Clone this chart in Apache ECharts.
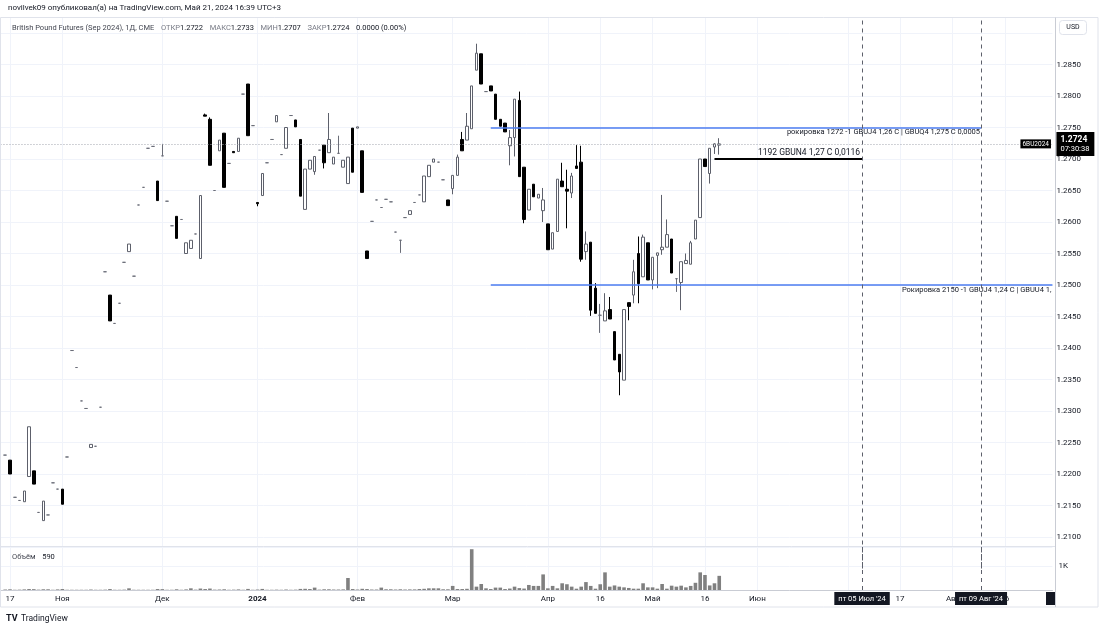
<!DOCTYPE html>
<html><head><meta charset="utf-8">
<script src="https://cdn.jsdelivr.net/npm/echarts@6/dist/echarts.min.js"></script>
<style>html,body{margin:0;padding:0;background:#fff}#c{width:1099px;height:630px}</style>
</head><body><div id="c"></div>
<script>
// ---------- calendar ----------
const holidays = ['2023-11-23','2023-12-25','2024-01-01','2024-01-15','2024-02-19','2024-03-29','2024-05-27','2024-06-19','2024-07-04'];
const axisStart = '2023-10-13';
const axisCount = 222;
const dataStart = '2023-10-16';

// ---------- daily OHLC (from 2023-10-16 to 2024-05-21) ----------
const openP = [1.2230,1.2222,1.2163,1.2158,1.2156,1.2196,1.2205,1.2139,1.2126,1.2135,
1.2186,1.2176,1.2176,1.2227,1.2396,1.2369,1.2316,1.2304,1.2242,1.2244,
1.2306,1.2521,1.2484,1.2439,1.2471,1.2536,1.2553,1.2514,1.2627,1.2655,
1.2717,1.2720,1.2665,1.2705,1.2633,1.2594,1.2609,1.2604,1.2550,1.2558,
1.2581,1.2542,1.2770,1.2763,1.2650,1.2713,1.2741,1.2693,1.2712,1.2712,
1.2803,1.2819,1.2753,1.2631,1.2642,1.2694,1.2731,1.2759,1.2707,1.2717,
1.2769,1.2762,1.2731,1.2620,1.2684,1.2680,1.2714,1.2722,1.2710,1.2692,
1.2709,1.2687,1.2661,1.2749,1.2749,1.2713,1.2554,1.2601,1.2635,1.2623,
1.2636,1.2632,1.2584,1.2571,1.2607,1.2612,1.2631,1.2643,1.2632,1.2672,
1.2695,1.2695,1.2667,1.2635,1.2653,1.2674,1.2731,1.2730,1.2748,1.2841,
1.2867,1.2807,1.2816,1.2803,1.2763,1.2757,1.2721,1.2734,1.2793,1.2687,
1.2619,1.2660,1.2638,1.2618,1.2597,1.2557,1.2585,1.2665,1.2652,1.2646,
1.2689,1.2695,1.2553,1.2568,1.2495,1.2452,1.2443,1.2461,1.2426,1.2390,
1.2349,1.2472,1.2484,1.2550,1.2513,1.2567,1.2508,1.2547,1.2556,1.2560,
1.2573,1.2510,1.2504,1.2534,1.2533,1.2573,1.2607,1.2700,1.2677,1.2719,
1.2722];
const highP = [1.2230,1.2222,1.2163,1.2158,1.2173,1.2275,1.2205,1.2139,1.2157,1.2135,
1.2186,1.2176,1.2176,1.2227,1.2396,1.2369,1.2316,1.2304,1.2247,1.2244,
1.2306,1.2521,1.2484,1.2439,1.2471,1.2536,1.2565,1.2514,1.2627,1.2655,
1.2717,1.2720,1.2665,1.2724,1.2633,1.2594,1.2609,1.2604,1.2567,1.2571,
1.2581,1.2642,1.2772,1.2766,1.2650,1.2730,1.2741,1.2693,1.2712,1.2733,
1.2803,1.2819,1.2753,1.2631,1.2677,1.2694,1.2731,1.2769,1.2707,1.2750,
1.2769,1.2762,1.2731,1.2684,1.2698,1.2704,1.2714,1.2722,1.2773,1.2703,
1.2737,1.2698,1.2703,1.2749,1.2751,1.2713,1.2554,1.2601,1.2635,1.2623,
1.2636,1.2632,1.2584,1.2571,1.2607,1.2618,1.2631,1.2643,1.2673,1.2690,
1.2700,1.2695,1.2667,1.2635,1.2674,1.2707,1.2743,1.2773,1.2816,1.2883,
1.2867,1.2807,1.2816,1.2803,1.2763,1.2757,1.2746,1.2795,1.2807,1.2687,
1.2652,1.2660,1.2644,1.2654,1.2597,1.2583,1.2668,1.2694,1.2683,1.2678,
1.2722,1.2721,1.2585,1.2568,1.2503,1.2470,1.2487,1.2481,1.2426,1.2390,
1.2461,1.2472,1.2540,1.2577,1.2580,1.2567,1.2544,1.2551,1.2643,1.2604,
1.2573,1.2510,1.2537,1.2550,1.2570,1.2603,1.2700,1.2700,1.2717,1.2725,
1.2733];
const lowP = [1.2230,1.2200,1.2163,1.2158,1.2156,1.2196,1.2184,1.2139,1.2126,1.2135,
1.2186,1.2176,1.2152,1.2227,1.2396,1.2369,1.2316,1.2304,1.2242,1.2244,
1.2306,1.2521,1.2443,1.2439,1.2471,1.2536,1.2553,1.2514,1.2627,1.2655,
1.2717,1.2720,1.2634,1.2705,1.2633,1.2594,1.2574,1.2604,1.2550,1.2558,
1.2581,1.2542,1.2768,1.2690,1.2650,1.2713,1.2655,1.2693,1.2710,1.2712,
1.2803,1.2737,1.2753,1.2625,1.2642,1.2694,1.2731,1.2759,1.2707,1.2717,
1.2769,1.2751,1.2641,1.2620,1.2684,1.2675,1.2714,1.2685,1.2710,1.2692,
1.2709,1.2687,1.2661,1.2679,1.2749,1.2647,1.2542,1.2601,1.2635,1.2623,
1.2636,1.2632,1.2584,1.2551,1.2607,1.2612,1.2631,1.2643,1.2632,1.2672,
1.2695,1.2695,1.2667,1.2626,1.2644,1.2674,1.2713,1.2730,1.2748,1.2841,
1.2819,1.2807,1.2808,1.2763,1.2752,1.2743,1.2690,1.2704,1.2672,1.2598,
1.2619,1.2640,1.2638,1.2600,1.2556,1.2557,1.2585,1.2656,1.2590,1.2638,
1.2685,1.2537,1.2540,1.2451,1.2455,1.2424,1.2443,1.2446,1.2381,1.2325,
1.2349,1.2444,1.2471,1.2471,1.2513,1.2508,1.2493,1.2495,1.2548,1.2560,
1.2519,1.2489,1.2460,1.2534,1.2533,1.2573,1.2607,1.2688,1.2661,1.2708,
1.2707];
const closeP = [1.2230,1.2200,1.2163,1.2158,1.2173,1.2275,1.2184,1.2139,1.2157,1.2135,
1.2186,1.2176,1.2152,1.2227,1.2396,1.2369,1.2316,1.2304,1.2247,1.2244,
1.2306,1.2521,1.2443,1.2439,1.2471,1.2536,1.2565,1.2514,1.2627,1.2655,
1.2717,1.2720,1.2634,1.2705,1.2633,1.2594,1.2574,1.2604,1.2567,1.2571,
1.2581,1.2642,1.2768,1.2690,1.2650,1.2730,1.2655,1.2693,1.2710,1.2733,
1.2803,1.2737,1.2753,1.2629,1.2677,1.2694,1.2731,1.2769,1.2707,1.2750,
1.2769,1.2751,1.2641,1.2684,1.2698,1.2704,1.2714,1.2694,1.2731,1.2703,
1.2709,1.2698,1.2703,1.2679,1.2751,1.2647,1.2542,1.2601,1.2635,1.2623,
1.2636,1.2632,1.2584,1.2571,1.2607,1.2618,1.2631,1.2643,1.2673,1.2690,
1.2700,1.2695,1.2667,1.2626,1.2674,1.2703,1.2713,1.2752,1.2816,1.2868,
1.2819,1.2807,1.2808,1.2763,1.2752,1.2743,1.2734,1.2795,1.2672,1.2604,
1.2652,1.2640,1.2644,1.2635,1.2556,1.2583,1.2668,1.2656,1.2649,1.2673,
1.2685,1.2541,1.2565,1.2460,1.2455,1.2452,1.2459,1.2446,1.2381,1.2362,
1.2461,1.2466,1.2521,1.2502,1.2576,1.2508,1.2544,1.2551,1.2560,1.2580,
1.2519,1.2510,1.2537,1.2539,1.2567,1.2603,1.2700,1.2688,1.2717,1.2724,
1.2724];
const volumes = [20,30,10,15,25,40,35,15,30,30, 10,25,40,10,10,10,10,10,20,10,
10,15,40,10,10,15,70,10,10,10, 10,10,40,35,10,10,30,10,25,70,
15,60,40,60,15,20,30,10,15,25, 10,45,10,20,45,10,10,15,10,20,
10,15,45,50,40,100,15,30,30,20, 20,25,500,40,20,50,40,20,20,100,
30,30,20,30,20,25,25,40,50,70, 70,70,30,30,170,40,40,50,1700,140,
250,70,40,100,100,40,60,140,80,60, 210,170,170,650,70,170,70,280,240,140,
55,140,330,170,55,240,735,140,190,140, 110,85,55,55,280,110,110,55,250,55,
180,140,180,110,170,300,735,625,190,280, 590];

// ---------- axis ticks ----------
const tickDates = ['2023-10-17','2023-11-01','2023-12-01','2024-01-02','2024-02-01','2024-03-01','2024-04-01','2024-04-16','2024-05-01','2024-05-16','2024-06-03','2024-07-01','2024-07-17','2024-08-01','2024-08-16'];
const tickLabels = ['17','Ноя','Дек','2024','Фев','Мар','Апр','16','Май','16','Июн','','17','Авг','16'];
const priceMin = 1.205, priceMax = 1.295, priceStep = 0.005;
const priceLabelLow = 1.21, priceLabelHigh = 1.285;

// ---------- annotations ----------
const lastPrice = 1.2724;
const rollA = {price: 1.275, from: '2024-03-13', to: '2024-08-09', text: 'рокировка 1272 -1 GBUJ4 1,26 C | GBUQ4 1,275 C 0,0005'};
const rollB = {price: 1.25, from: '2024-03-13', text: 'Рокировка 2150 -1 GBUJ4 1,24 C | GBUU4 1,'};
const callN = {price: 1.27, from: '2024-05-20', to: '2024-07-05', text: '1192 GBUN4 1,27 C 0,0116'};
const vDates = ['2024-07-05', '2024-08-09'];
const vLabels = ["пт 05 Июл '24", "пт 09 Авг '24"];

function tradingDays(start, n) {
  const out = [];
  const d = new Date(start + 'T12:00:00Z');
  while (out.length < n) {
    const dow = d.getUTCDay();
    const s = d.toISOString().slice(0, 10);
    if (dow !== 0 && dow !== 6 && holidays.indexOf(s) < 0) out.push(s);
    d.setUTCDate(d.getUTCDate() + 1);
  }
  return out;
}
const cats = tradingDays(axisStart, axisCount);
const off = cats.indexOf(dataStart);
const candleData = [], volData = [];
for (let k = 0; k < cats.length; k++) {
  const i = k - off;
  if (i >= 0 && i < openP.length) {
    candleData.push([openP[i], closeP[i], lowP[i], highP[i]]);
    volData.push(volumes[i]);
  } else { candleData.push('-'); volData.push('-'); }
}
const tickSet = {};
tickDates.forEach((d, j) => tickSet[d] = tickLabels[j]);
const isTick = (idx, val) => Object.prototype.hasOwnProperty.call(tickSet, val);

const nTicks = Math.round((priceMax - priceMin) / priceStep) + 1;
const splitColors = [];
for (let t = 0; t < nTicks; t++) {
  const v = priceMin + t * priceStep;
  splitColors.push(v < priceLabelLow - 1e-6 || v > priceMax - 1e-6 ? 'rgba(0,0,0,0)' : '#f0f3fa');
}

const FONT = 'Roboto, "Noto Sans", sans-serif';
const chart = echarts.init(document.getElementById('c'), null, {renderer: 'canvas'});
const GL = 0.48, GW = 221 * 4.76;
const lastCat = cats[cats.length - 1];

chart.setOption({
  animation: false,
  backgroundColor: '#ffffff',
  textStyle: {fontFamily: FONT},
  grid: [
    {left: GL, width: GW, top: 1.5, height: 567},
    {left: GL, width: GW, top: 547, height: 43}
  ],
  xAxis: [
    {type: 'category', gridIndex: 0, data: cats, boundaryGap: false,
     axisLine: {show: false}, axisTick: {show: false}, axisLabel: {show: false},
     splitLine: {show: true, interval: isTick, lineStyle: {color: '#f0f3fa', width: 1}}},
    {type: 'category', gridIndex: 1, data: cats, boundaryGap: false,
     axisLine: {show: true, lineStyle: {color: '#c9ccd4', width: 1}}, axisTick: {show: false},
     axisLabel: {show: true, interval: isTick, margin: 5, fontSize: 8, color: '#131722', fontFamily: FONT,
       formatter: v => tickSet[v] === '2024' ? '{b|2024}' : (tickSet[v] || ''),
       rich: {b: {fontWeight: 'bold', fontSize: 8, color: '#131722', fontFamily: FONT}}},
     splitLine: {show: true, interval: isTick, lineStyle: {color: '#f0f3fa', width: 1}}}
  ],
  yAxis: [
    {type: 'value', gridIndex: 0, position: 'right', min: priceMin, max: priceMax, interval: priceStep,
     axisLine: {show: false}, axisTick: {show: false},
     axisLabel: {show: true, margin: 4, fontSize: 8, color: '#131722', fontFamily: FONT,
       formatter: v => (v < priceLabelLow - 1e-6 || v > priceLabelHigh + 1e-6) ? '' : v.toFixed(4)},
     splitLine: {show: true, lineStyle: {color: splitColors, width: 1}}},
    {type: 'value', gridIndex: 1, position: 'right', min: 0, max: 1792, interval: 1000,
     axisLine: {show: false}, axisTick: {show: false},
     axisLabel: {show: true, margin: 6, fontSize: 8, color: '#131722', fontFamily: FONT,
       formatter: v => v === 1000 ? '1K' : ''},
     splitLine: {show: true, lineStyle: {color: '#f0f3fa', width: 1}}}
  ],
  series: [
    {type: 'candlestick', xAxisIndex: 0, yAxisIndex: 0, data: candleData, barWidth: 3,
     itemStyle: {color: '#ffffff', color0: '#000000', borderColor: '#5d606b', borderColor0: '#000000',
       borderColorDoji: '#6a6d78', borderWidth: 1},
     markLine: {symbol: 'none', silent: true, animation: false, precision: 6,
       data: [
         [{coord: [cats[0], lastPrice], lineStyle: {type: [1, 2], color: '#a3a6af', width: 1},
           label: {show: true, position: 'end', distance: 4, backgroundColor: '#000', padding: [3, 5, 2, 4],
             formatter: '{p|1.2724}\n{t|07:30:38}',
             rich: {p: {color: '#fff', fontSize: 8.5, fontWeight: 'bold', fontFamily: FONT, lineHeight: 9.5},
                    t: {color: '#fff', fontSize: 7.5, fontFamily: FONT, lineHeight: 9.5}}}},
          {coord: [lastCat, lastPrice]}],
         [{coord: [cats[0], lastPrice], lineStyle: {color: 'rgba(0,0,0,0)', width: 0},
           label: {show: true, position: 'end', distance: 0, offset: [-32, 0], backgroundColor: '#000',
             color: '#fff', fontSize: 6.5, fontFamily: FONT, padding: [1, 2], formatter: '6BU2024'}},
          {coord: [lastCat, lastPrice]}],
         [{coord: [rollA.from, rollA.price], lineStyle: {color: '#4d7cf0', width: 1.5, type: 'solid'},
           label: {show: true, position: 'insideEndBottom', distance: 1, color: '#131722', fontSize: 7.5,
             fontFamily: FONT, formatter: rollA.text}},
          {coord: [rollA.to, rollA.price]}],
         [{coord: [rollB.from, rollB.price], lineStyle: {color: '#4d7cf0', width: 1.5, type: 'solid'},
           label: {show: true, position: 'insideEndBottom', distance: 1, color: '#131722', fontSize: 7.5,
             fontFamily: FONT, formatter: rollB.text}},
          {coord: [lastCat, rollB.price]}],
         [{coord: [callN.from, callN.price], lineStyle: {color: '#000000', width: 2, type: 'solid'},
           label: {show: true, position: 'insideEndTop', distance: 2, color: '#131722', fontSize: 8.5,
             fontFamily: FONT, formatter: callN.text}},
          {coord: [callN.to, callN.price]}],
         {xAxis: vDates[0], lineStyle: {type: [4, 4], color: '#5d606b', width: 1}, label: {show: false}},
         {xAxis: vDates[1], lineStyle: {type: [4, 4], color: '#5d606b', width: 1}, label: {show: false}}
       ]}},
    {type: 'bar', xAxisIndex: 1, yAxisIndex: 1, data: volData, barWidth: 3.6,
     itemStyle: {color: '#808080'},
     markLine: {symbol: 'none', silent: true, animation: false,
       data: vDates.map((d, j) => ({xAxis: d, lineStyle: {type: [4, 4], color: '#5d606b', width: 1},
         label: {show: true, position: 'start', distance: 2, formatter: vLabels[j], backgroundColor: '#131722',
           color: '#fff', fontSize: 7.5, fontFamily: FONT, padding: [3, 4, 2, 4]}}))}}
  ],
  graphic: [
    {type: 'rect', z: 100, shape: {x: 0, y: 0, width: 1099, height: 17.5}, style: {fill: '#ffffff'}, silent: true},
    {type: 'rect', z: 101, shape: {x: 0.5, y: 17.5, width: 1097.5, height: 589.5}, style: {fill: null, stroke: '#e0e3eb', lineWidth: 1}, silent: true},
    {type: 'line', z: 101, shape: {x1: 1055.5, y1: 17.5, x2: 1055.5, y2: 607}, style: {stroke: '#c9ccd4', lineWidth: 1}, silent: true},
    {type: 'line', z: 101, shape: {x1: 0, y1: 546.5, x2: 1055, y2: 546.5}, style: {stroke: '#e0e3eb', lineWidth: 1}, silent: true},
    {type: 'text', z: 102, style: {x: 8, y: 8, text: 'novilvek09 опубликовал(а) на TradingView.com, Май 21, 2024 16:39 UTC+3',
      font: '8px ' + FONT, fill: '#131722', verticalAlign: 'middle'}, silent: true},
    {type: 'text', z: 102, style: {x: 12, y: 28,
      text: '{n|British Pound Futures (Sep 2024), 1Д, CME}  {l|ОТКР}{v|1.2722}  {l|МАКС}{v|1.2733}  {l|МИН}{v|1.2707}  {l|ЗАКР}{v|1.2724}  {v|0.0000 (0.00%)}',
      verticalAlign: 'middle',
      rich: {n: {fontSize: 7.5, fill: '#434651', fontFamily: FONT}, l: {fontSize: 7.5, fill: '#787b86', fontFamily: FONT},
             v: {fontSize: 7.5, fill: '#131722', fontFamily: FONT}}}, silent: true},
    {type: 'text', z: 102, style: {x: 12, y: 557, text: '{l|Объём}  {v|590}', verticalAlign: 'middle',
      rich: {l: {fontSize: 7.5, fill: '#434651', fontFamily: FONT}, v: {fontSize: 7.5, fill: '#131722', fontFamily: FONT}}}, silent: true},
    {type: 'rect', z: 102, shape: {x: 1059.5, y: 20.5, width: 27, height: 14, r: 3}, style: {fill: '#fff', stroke: '#e0e3eb', lineWidth: 1}, silent: true},
    {type: 'text', z: 103, style: {x: 1073, y: 27.5, text: 'USD', align: 'center', verticalAlign: 'middle', font: '7px ' + FONT, fill: '#131722'}, silent: true},
    {type: 'rect', z: 102, shape: {x: 1046, y: 592, width: 9, height: 13}, style: {fill: '#131722'}, silent: true},
    {type: 'text', z: 102, style: {x: 6, y: 619, text: 'TV', verticalAlign: 'middle', font: 'bold 9px ' + FONT, fill: '#131722'}, silent: true},
    {type: 'text', z: 102, style: {x: 21, y: 619, text: 'TradingView', verticalAlign: 'middle', font: '8.5px ' + FONT, fill: '#131722'}, silent: true}
  ]
});
</script></body></html>
